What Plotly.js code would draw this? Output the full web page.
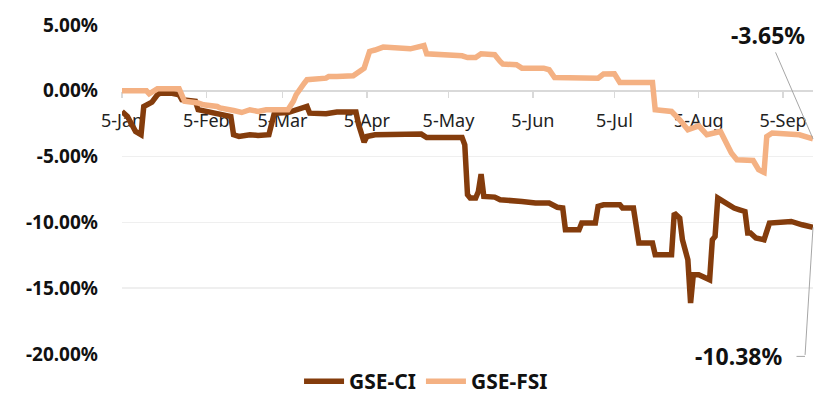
<!DOCTYPE html>
<html>
<head>
<meta charset="utf-8">
<script src="https://cdn.plot.ly/plotly-3.0.1.min.js"></script>
<style>
  html, body { margin: 0; padding: 0; background: #ffffff; }
  #chart { width: 815px; height: 402px; }
</style>
</head>
<body>
<div id="chart"></div>
<script>
// GSE-FSI (year-to-date %)
const fsiDates = ["2022-01-05","2022-01-14","2022-01-15","2022-01-18","2022-01-26","2022-01-28","2022-02-02","2022-02-04","2022-02-09","2022-02-10","2022-02-15","2022-02-18","2022-02-21","2022-02-24","2022-02-27","2022-03-04","2022-03-07","2022-03-09","2022-03-10","2022-03-13","2022-03-14","2022-03-21","2022-03-22","2022-03-25","2022-03-31","2022-04-04","2022-04-06","2022-04-08","2022-04-11","2022-04-21","2022-04-26","2022-04-27","2022-05-03","2022-05-10","2022-05-12","2022-05-15","2022-05-17","2022-05-22","2022-05-24","2022-05-25","2022-05-30","2022-06-01","2022-06-09","2022-06-11","2022-06-13","2022-06-20","2022-06-29","2022-07-01","2022-07-05","2022-07-07","2022-07-19","2022-07-20","2022-07-26","2022-07-29","2022-08-01","2022-08-05","2022-08-08","2022-08-13","2022-08-15","2022-08-17","2022-08-19","2022-08-25","2022-08-27","2022-08-29","2022-08-30","2022-09-01","2022-09-11","2022-09-16"];
const fsiValues = [0.00,0.00,-0.23,0.15,0.15,-0.80,-0.93,-1.06,-1.19,-1.30,-1.50,-1.65,-1.44,-1.57,-1.44,-1.50,-1.44,-0.80,-0.30,0.58,0.84,0.96,1.09,1.09,1.15,1.72,2.99,3.10,3.32,3.19,3.44,2.81,2.74,2.66,2.53,2.53,2.81,2.74,2.23,2.03,1.98,1.72,1.72,1.60,1.01,0.96,0.96,1.27,1.29,0.63,0.63,-1.44,-1.57,-2.20,-2.96,-2.66,-3.34,-3.09,-3.85,-4.73,-5.24,-5.30,-6.00,-6.20,-3.47,-3.21,-3.34,-3.65];

// GSE-CI (year-to-date %)
const ciDates = ["2022-01-05","2022-01-07","2022-01-10","2022-01-12","2022-01-13","2022-01-15","2022-01-16","2022-01-18","2022-01-19","2022-01-23","2022-01-26","2022-01-27","2022-01-30","2022-02-01","2022-02-02","2022-02-05","2022-02-09","2022-02-14","2022-02-15","2022-02-17","2022-02-21","2022-02-24","2022-02-28","2022-03-02","2022-03-07","2022-03-10","2022-03-14","2022-03-15","2022-03-21","2022-03-25","2022-04-01","2022-04-02","2022-04-04","2022-04-05","2022-04-08","2022-04-25","2022-04-27","2022-05-10","2022-05-11","2022-05-12","2022-05-13","2022-05-15","2022-05-16","2022-05-17","2022-05-18","2022-05-22","2022-05-24","2022-06-01","2022-06-06","2022-06-11","2022-06-14","2022-06-16","2022-06-17","2022-06-22","2022-06-23","2022-06-28","2022-06-29","2022-07-01","2022-07-07","2022-07-08","2022-07-12","2022-07-14","2022-07-19","2022-07-20","2022-07-26","2022-07-27","2022-07-29","2022-07-30","2022-08-01","2022-08-02","2022-08-03","2022-08-05","2022-08-09","2022-08-10","2022-08-11","2022-08-12","2022-08-16","2022-08-18","2022-08-20","2022-08-22","2022-08-23","2022-08-24","2022-08-26","2022-08-29","2022-08-31","2022-09-08","2022-09-12","2022-09-16"];
const ciValues = [-1.57,-1.95,-3.09,-3.34,-1.19,-0.93,-0.86,-0.30,-0.18,-0.18,-0.30,-0.68,-0.73,-0.80,-1.44,-1.57,-1.82,-1.95,-3.34,-3.47,-3.34,-3.39,-3.34,-1.70,-1.65,-1.44,-1.19,-1.70,-1.75,-1.62,-1.62,-2.58,-3.90,-3.47,-3.34,-3.29,-3.55,-3.55,-4.10,-7.90,-8.15,-8.15,-7.65,-6.33,-8.03,-8.08,-8.28,-8.41,-8.53,-8.53,-8.85,-8.90,-10.56,-10.56,-10.05,-10.05,-8.79,-8.66,-8.66,-8.91,-8.91,-11.57,-11.57,-12.46,-12.46,-9.29,-9.67,-11.32,-12.84,-16.13,-13.98,-13.98,-14.36,-11.32,-11.07,-8.15,-8.66,-8.91,-9.04,-9.17,-10.81,-10.81,-11.19,-11.32,-10.05,-9.93,-10.18,-10.38];

// Axis ticks
const xTickVals = ["2022-01-05","2022-02-05","2022-03-05","2022-04-05","2022-05-05","2022-06-05","2022-07-05","2022-08-05","2022-09-05"];
const xTickLabels = ["5-Jan","5-Feb","5-Mar","5-Apr","5-May","5-Jun","5-Jul","5-Aug","5-Sep"];
const yTickVals = [5, 0, -5, -10, -15, -20];
const yTickLabels = ["5.00%","0.00%","-5.00%","-10.00%","-15.00%","-20.00%"];

const seriesNames = ["GSE-CI", "GSE-FSI"];
const lastCI = ciValues[ciValues.length - 1];
const lastFSI = fsiValues[fsiValues.length - 1];
const lastDate = ciDates[ciDates.length - 1];

const traces = [
  { x: ciDates, y: ciValues, name: seriesNames[0], type: 'scatter', mode: 'lines',
    line: { color: '#843C0C', width: 5.5 }, hoverinfo: 'skip' },
  { x: fsiDates, y: fsiValues, name: seriesNames[1], type: 'scatter', mode: 'lines',
    line: { color: '#F4B183', width: 5.5 }, hoverinfo: 'skip' }
];

const fam = '"Noto Sans", "Open Sans", sans-serif';
const layout = {
  width: 815, height: 402,
  margin: { l: 122, r: 2, t: 25, b: 48, autoexpand: false },
  paper_bgcolor: '#ffffff', plot_bgcolor: '#ffffff',
  showlegend: true,
  legend: { orientation: 'h', x: 0.44, xanchor: 'center', y: -0.146, yanchor: 'bottom',
            font: { family: fam, size: 21, color: '#111111', weight: 700 },
            itemwidth: 40, tracegroupgap: 0, bgcolor: 'rgba(0,0,0,0)' },
  xaxis: {
    type: 'date', range: [ciDates[0], lastDate],
    anchor: 'free', position: 0.8,
    showgrid: false, zeroline: false,
    showline: true, linecolor: '#d9d9d9', linewidth: 2,
    ticks: 'outside', ticklen: 6, tickcolor: '#d9d9d9', tickwidth: 1.5,
    tickvals: xTickVals, ticktext: xTickLabels,
    tickfont: { family: fam, size: 18, color: '#222222' },
    ticklabelstandoff: 8,
    layer: 'below traces', fixedrange: true
  },
  yaxis: {
    range: [-20, 5], tickvals: yTickVals, ticktext: yTickLabels,
    showgrid: true, gridcolor: '#efefef', gridwidth: 1.5,
    zeroline: false, showline: false, ticks: '',
    tickfont: { family: fam, size: 19, color: '#111111', weight: 700 },
    ticklabelstandoff: 23, fixedrange: true
  },
  annotations: [
    { x: lastDate, y: lastFSI, xref: 'x', yref: 'y',
      text: '-3.65%', showarrow: true, arrowhead: 0, arrowwidth: 1, arrowcolor: '#a6a6a6',
      ax: -45, ay: -104,
      font: { family: fam, size: 23, color: '#111111', weight: 700 } },
    { x: lastDate, y: lastCI, xref: 'x', yref: 'y',
      text: '-10.38%', showarrow: false, xshift: -75, yshift: -129,
      font: { family: fam, size: 23, color: '#111111', weight: 700 } },
    { x: lastDate, y: lastCI, xref: 'x', yref: 'y',
      text: '', showarrow: true, arrowhead: 0, arrowwidth: 1, arrowcolor: '#a6a6a6',
      ax: -8, ay: 129, standoff: 0, font: { size: 1 } },
    { x: lastDate, y: lastCI, xref: 'x', yref: 'y', xshift: -8, yshift: -129,
      text: '', showarrow: true, arrowhead: 0, arrowwidth: 1, arrowcolor: '#a6a6a6',
      ax: -10, ay: 0, standoff: 0, font: { size: 1 } }
  ]
};

Plotly.newPlot('chart', traces, layout, { displayModeBar: false, staticPlot: true });
</script>
</body>
</html>
